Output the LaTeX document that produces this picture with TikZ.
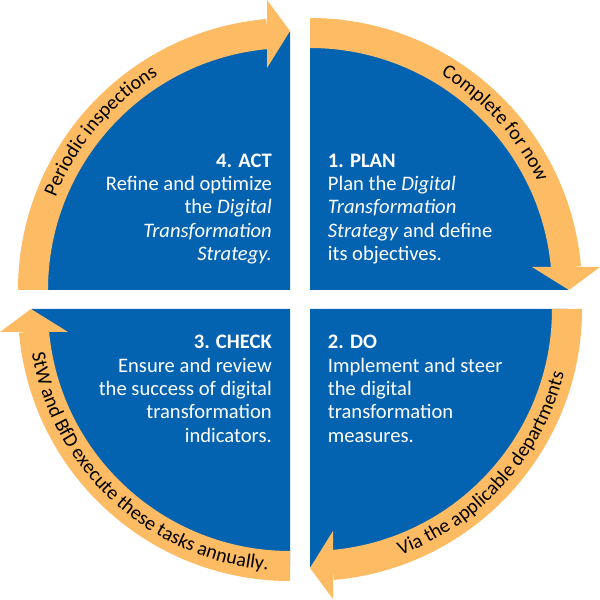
\documentclass[tikz,border=0pt]{standalone}
\usepackage{fontspec}
\setmainfont{Carlito}
\usetikzlibrary{decorations.text}
\definecolor{qblue}{RGB}{4,99,176}
\definecolor{qorange}{RGB}{253,187,99}
\newcommand{\mainsize}{\fontsize{20.6}{23.3}\selectfont}
\newcommand{\arcsize}{\fontsize{20}{24}\selectfont}
\begin{document}
\begin{tikzpicture}[x=1pt,y=1pt,
  quad/.style={fill=qblue},
  band/.style={fill=qorange},
  qtext/.style={text=white,inner sep=0pt,font=\mainsize},
  arctext/.style={decorate,decoration={text along path,text={|\arcsize|#1},text align=center}},
  pics/cyclearrow/.style={code={
    \fill[band] (180:272) arc[start angle=180,end angle=95,radius=272] -- (95:242) arc[start angle=95,end angle=180,radius=242] -- cycle;
    \fill[band] (-23,222) -- (0,259) -- (-23,290) -- cycle;
  }}]
\useasboundingbox (0,0) rectangle (600,600);
% quadrants
\fill[quad] (290,310) -- ++(180:258) arc[start angle=180,end angle=90,radius=258] -- cycle;
\fill[quad] (310,310) -- ++(90:258) arc[start angle=90,end angle=0,radius=258] -- cycle;
\fill[quad] (310,291) -- ++(0:258) arc[start angle=0,end angle=-90,radius=258] -- cycle;
\fill[quad] (290,291) -- ++(270:258) arc[start angle=270,end angle=180,radius=258] -- cycle;
% arrows
\pic at (290,310) {cyclearrow};
\pic[rotate=-90] at (310,310) {cyclearrow};
\pic[rotate=180] at (310,291) {cyclearrow};
\pic[rotate=90] at (290,291) {cyclearrow};
% arc texts
\begin{scope}[shift={(290,310)}]
  \path[arctext={Periodic inspections}] (180:252) arc[start angle=180,end angle=100,radius=252];
\end{scope}
\begin{scope}[shift={(310,310)}]
  \path[arctext={Complete for now}] (82:252) arc[start angle=82,end angle=2,radius=252];
\end{scope}
\begin{scope}[shift={(290,291)}]
  \path[arctext={StW and BfD execute these tasks annually.}] (182:262) arc[start angle=182,end angle=273,radius=262];
\end{scope}
\begin{scope}[shift={(310,291)}]
  \path[arctext={Via the applicable departments}] (273:262) arc[start angle=273,end angle=363,radius=262];
\end{scope}
% main texts
\node[qtext,anchor=base east] (act) at (272,432.7) {\begin{tabular}[t]{@{}r@{}}\textbf{4. ACT}\\ Refine and optimize\\ the \textit{Digital}\\ \textit{Transformation}\\ \textit{Strategy.}\end{tabular}};
\node[qtext,anchor=base west] (plan) at (327.7,432.7) {\begin{tabular}[t]{@{}l@{}}\textbf{1. PLAN}\\ Plan the \textit{Digital}\\ \textit{Transformation}\\ \textit{Strategy} and define\\ its objectives.\end{tabular}};
\node[qtext,anchor=base east] (check) at (272,251) {\begin{tabular}[t]{@{}r@{}}\textbf{3. CHECK}\\ Ensure and review\\ the success of digital\\ transformation\\ indicators.\end{tabular}};
\node[qtext,anchor=base west] (do) at (327.7,251) {\begin{tabular}[t]{@{}l@{}}\textbf{2. DO}\\ Implement and steer\\ the digital\\ transformation\\ measures.\end{tabular}};
\end{tikzpicture}
\end{document}
